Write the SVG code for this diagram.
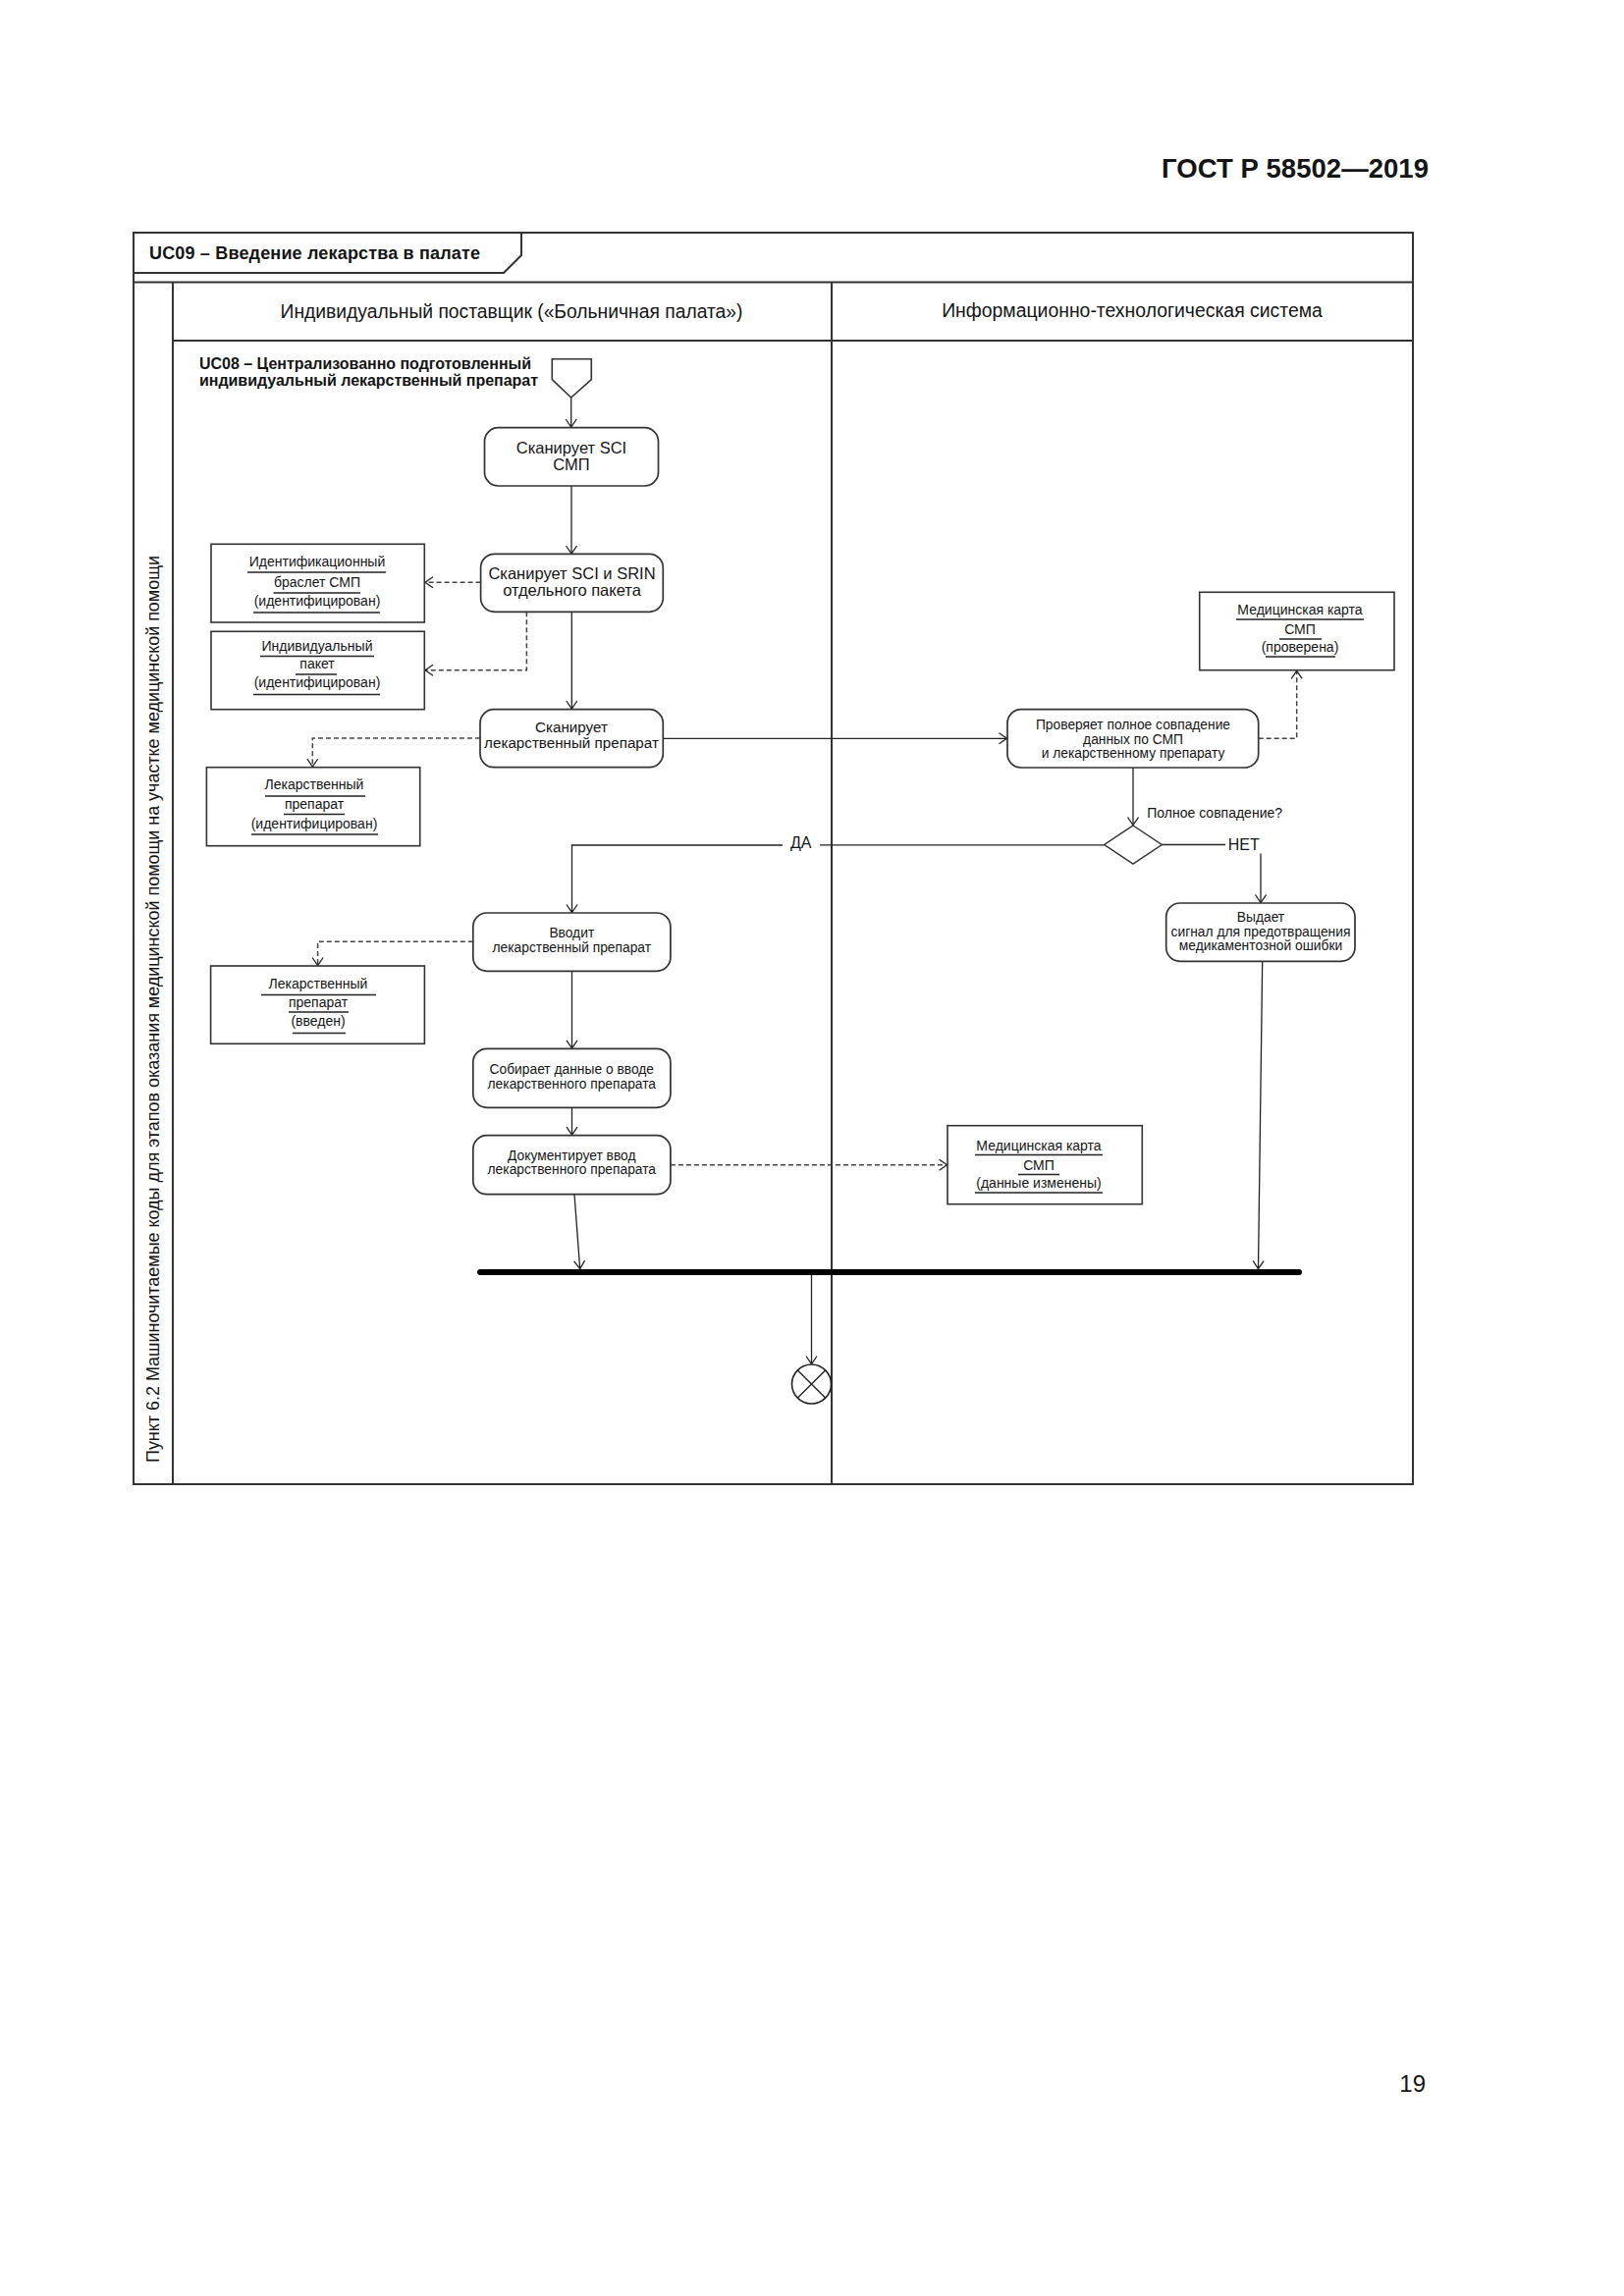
<svg xmlns="http://www.w3.org/2000/svg" width="1654" height="2339" viewBox="0 0 1654 2339">
<style>
text{font-family:"Liberation Sans",Arial,sans-serif;fill:#151515}
.frame{fill:none;stroke:#333;stroke-width:2}
.act{fill:#fff;stroke:#333;stroke-width:1.7}
.obj{fill:#fff;stroke:#333;stroke-width:1.6}
.ul{stroke:#222;stroke-width:1.5}
.c{fill:none;stroke:#222;stroke-width:1.3}
.d{fill:none;stroke:#444;stroke-width:1.5;stroke-dasharray:5 3}
.t16{font-size:16.5px}
.t15{font-size:15.2px}
.t14{font-size:13.8px}
.o{font-size:14px}
</style>
<defs>
<marker id="ah" markerUnits="userSpaceOnUse" markerWidth="12" markerHeight="14" refX="9" refY="6" orient="auto">
<path d="M1,0.5 L9,6 L1,11.5" fill="none" stroke="#222" stroke-width="1.3"/>
</marker>
</defs>
<rect width="1654" height="2339" fill="#fff"/>
<text x="1183" y="181" font-size="27.5" font-weight="bold" textLength="272">ГОСТ Р 58502—2019</text>
<text x="1452" y="2131" font-size="24" text-anchor="end">19</text>

<g id="frame">
<rect class="frame" x="136" y="237" width="1303" height="1275"/>
<path class="frame" d="M136,278 H513 L531,260 V237"/>
<line class="frame" x1="136" y1="287.5" x2="1439" y2="287.5"/>
<line class="frame" x1="176" y1="287.5" x2="176" y2="1512"/>
<line class="frame" x1="176" y1="347" x2="1439" y2="347"/>
<line class="frame" x1="847" y1="287.5" x2="847" y2="1512"/>
<text x="152" y="264" font-size="18" font-weight="bold" textLength="337">UC09 – Введение лекарства в палате</text>
<text x="521" y="324" font-size="19.3" text-anchor="middle">Индивидуальный поставщик («Больничная палата»)</text>
<text x="1153" y="323" font-size="19.4" text-anchor="middle">Информационно-технологическая система</text>
<text transform="translate(162,1490) rotate(-90)" font-size="18" textLength="924">Пункт 6.2 Машиночитаемые коды для этапов оказания медицинской помощи на участке медицинской помощи</text>
</g>

<g id="connectors">
<path class="c" d="M581.7,405 V435" marker-end="url(#ah)"/>
<path class="c" d="M582,495 V564" marker-end="url(#ah)"/>
<path class="d" d="M489.6,593.3 H433" marker-end="url(#ah)"/>
<path class="d" d="M536.4,623.3 V682.7 H433" marker-end="url(#ah)"/>
<path class="c" d="M582.3,623.3 V722" marker-end="url(#ah)"/>
<path class="d" d="M489,752 H318.3 V781" marker-end="url(#ah)"/>
<path class="c" d="M675.3,752.3 H1025.5" marker-end="url(#ah)"/>
<path class="d" d="M1281.7,752.3 H1320.7 V683.3" marker-end="url(#ah)"/>
<path class="c" d="M1154,782 V840.5" marker-end="url(#ah)"/>
<path class="c" d="M1183.3,860.5 H1248"/>
<path class="c" d="M1284,869.5 V919.5" marker-end="url(#ah)"/>
<path class="c" d="M1124.7,860.8 H835"/>
<path class="c" d="M797,861 H582.5 V929.5" marker-end="url(#ah)"/>
<path class="d" d="M481.8,959.3 H323.6 V983.5" marker-end="url(#ah)"/>
<path class="c" d="M582.5,989.3 V1067.8" marker-end="url(#ah)"/>
<path class="c" d="M582.5,1128.3 V1156.2" marker-end="url(#ah)"/>
<path class="d" d="M682.9,1186.7 H964.5" marker-end="url(#ah)"/>
<path class="c" d="M585,1216.7 L590.7,1292.5" marker-end="url(#ah)"/>
<path class="c" d="M1285.7,979.3 L1281.5,1292.5" marker-end="url(#ah)"/>
<path class="c" d="M826.5,1299 V1389.5" marker-end="url(#ah)"/>
<text x="805" y="863.5" font-size="16">ДА</text>
<text x="1250.7" y="865.5" font-size="16">НЕТ</text>
<text x="1168.3" y="832.5" font-size="14">Полное совпадение?</text>
</g>

<g id="start">
<path d="M562.3,365.7 H602.3 V386.7 L581.7,405 L562.3,386.7 Z" fill="#fff" stroke="#333" stroke-width="1.6"/>
<text x="203" y="376" font-size="16" font-weight="bold" textLength="338">UC08 – Централизованно подготовленный</text>
<text x="203" y="393" font-size="16" font-weight="bold" textLength="345">индивидуальный лекарственный препарат</text>
</g>

<g id="scan-sci">
<rect class="act" x="493.5" y="435.7" width="177" height="59.3" rx="14"/>
<text class="t16" x="582" y="462" text-anchor="middle">Сканирует SCI</text>
<text class="t16" x="582" y="479" text-anchor="middle">СМП</text>
</g>

<g id="scan-srin">
<rect class="act" x="489.6" y="564.3" width="185.7" height="59" rx="14"/>
<text class="t16" x="582.5" y="590" text-anchor="middle">Сканирует SCI и SRIN</text>
<text class="t16" x="582.5" y="607" text-anchor="middle">отдельного пакета</text>
</g>

<g id="obj-bracelet">
<rect class="obj" x="215" y="554.3" width="217.3" height="79.7"/>
<text class="o" x="323" y="577" text-anchor="middle">Идентификационный</text>
<line class="ul" x1="252" y1="583" x2="393" y2="583"/>
<text class="o" x="323" y="598" text-anchor="middle">браслет СМП</text>
<line class="ul" x1="278.5" y1="604" x2="367" y2="604"/>
<text class="o" x="323" y="617" text-anchor="middle">(идентифицирован)</text>
<line class="ul" x1="258" y1="624" x2="387" y2="624"/>
</g>

<g id="obj-packet">
<rect class="obj" x="215" y="643.3" width="217.3" height="79.4"/>
<text class="o" x="323" y="663" text-anchor="middle">Индивидуальный</text>
<line class="ul" x1="265" y1="668.5" x2="381" y2="668.5"/>
<text class="o" x="323" y="681" text-anchor="middle">пакет</text>
<line class="ul" x1="301" y1="687" x2="343" y2="687"/>
<text class="o" x="323" y="700" text-anchor="middle">(идентифицирован)</text>
<line class="ul" x1="258" y1="707.5" x2="387" y2="707.5"/>
</g>

<g id="scan-drug">
<rect class="act" x="489" y="722.7" width="186.3" height="59" rx="14"/>
<text class="t15" x="582" y="746" text-anchor="middle">Сканирует</text>
<text class="t15" x="582" y="762" text-anchor="middle">лекарственный препарат</text>
</g>

<g id="obj-drug-id">
<rect class="obj" x="210.4" y="781.7" width="217.3" height="80"/>
<text class="o" x="320" y="803.5" text-anchor="middle">Лекарственный</text>
<line class="ul" x1="270" y1="811" x2="372" y2="811"/>
<text class="o" x="320" y="823.5" text-anchor="middle">препарат</text>
<line class="ul" x1="289" y1="829.5" x2="351" y2="829.5"/>
<text class="o" x="320" y="843.5" text-anchor="middle">(идентифицирован)</text>
<line class="ul" x1="256" y1="850" x2="385" y2="850"/>
</g>

<g id="check">
<rect class="act" x="1026" y="722.7" width="255.7" height="59.3" rx="14"/>
<text class="t14" x="1154" y="742.5" text-anchor="middle">Проверяет полное совпадение</text>
<text class="t14" x="1154" y="757.5" text-anchor="middle">данных по СМП</text>
<text class="t14" x="1154" y="771.5" text-anchor="middle">и лекарственному препарату</text>
</g>

<g id="obj-card-checked">
<rect class="obj" x="1221.7" y="603.3" width="198.3" height="79.4"/>
<text class="o" x="1324" y="626" text-anchor="middle">Медицинская карта</text>
<line class="ul" x1="1259" y1="631" x2="1389" y2="631"/>
<text class="o" x="1324" y="646" text-anchor="middle">СМП</text>
<line class="ul" x1="1303" y1="651" x2="1346" y2="651"/>
<text class="o" x="1324" y="663.5" text-anchor="middle">(проверена)</text>
<line class="ul" x1="1289" y1="669" x2="1360" y2="669"/>
</g>

<g id="decision">
<polygon points="1154,841 1183.3,860.5 1154,880 1124.7,860.5" fill="#fff" stroke="#333" stroke-width="1.5"/>
</g>

<g id="alert">
<rect class="act" x="1187.7" y="920" width="192.3" height="59.3" rx="14"/>
<text class="t14" x="1284" y="939" text-anchor="middle">Выдает</text>
<text class="t14" x="1284" y="953.5" text-anchor="middle">сигнал для предотвращения</text>
<text class="t14" x="1284" y="967.5" text-anchor="middle">медикаментозной ошибки</text>
</g>

<g id="administer">
<rect class="act" x="481.8" y="930" width="201.1" height="59.3" rx="14"/>
<text class="t14" x="582.3" y="955" text-anchor="middle">Вводит</text>
<text class="t14" x="582.3" y="970" text-anchor="middle">лекарственный препарат</text>
</g>

<g id="obj-drug-admin">
<rect class="obj" x="214.6" y="984" width="217.8" height="79.3"/>
<text class="o" x="324" y="1007" text-anchor="middle">Лекарственный</text>
<line class="ul" x1="266" y1="1013.5" x2="383" y2="1013.5"/>
<text class="o" x="324" y="1026" text-anchor="middle">препарат</text>
<line class="ul" x1="294" y1="1031" x2="355" y2="1031"/>
<text class="o" x="324" y="1044.5" text-anchor="middle">(введен)</text>
<line class="ul" x1="298" y1="1052.5" x2="352" y2="1052.5"/>
</g>

<g id="collect">
<rect class="act" x="481.8" y="1068.3" width="201.1" height="60" rx="14"/>
<text class="t14" x="582.3" y="1094" text-anchor="middle">Собирает данные о вводе</text>
<text class="t14" x="582.3" y="1108.5" text-anchor="middle">лекарственного препарата</text>
</g>

<g id="document">
<rect class="act" x="481.8" y="1156.7" width="201.1" height="60" rx="14"/>
<text class="t14" x="582.3" y="1181.5" text-anchor="middle">Документирует ввод</text>
<text class="t14" x="582.3" y="1196" text-anchor="middle">лекарственного препарата</text>
</g>

<g id="obj-card-changed">
<rect class="obj" x="965" y="1146.7" width="198.3" height="80"/>
<text class="o" x="1058" y="1172" text-anchor="middle">Медицинская карта</text>
<line class="ul" x1="993" y1="1176.5" x2="1123" y2="1176.5"/>
<text class="o" x="1058" y="1192" text-anchor="middle">СМП</text>
<line class="ul" x1="1037" y1="1196.5" x2="1079" y2="1196.5"/>
<text class="o" x="1058" y="1210" text-anchor="middle">(данные изменены)</text>
<line class="ul" x1="993" y1="1215" x2="1123" y2="1215"/>
</g>

<g id="join">
<line x1="489" y1="1296" x2="1323" y2="1296" stroke="#000" stroke-width="6" stroke-linecap="round"/>
</g>

<g id="final">
<circle cx="826.5" cy="1410" r="20" fill="#fff" stroke="#222" stroke-width="1.6"/>
<path d="M812.4,1395.9 L840.6,1424.1 M840.6,1395.9 L812.4,1424.1" stroke="#222" stroke-width="1.4"/>
</g>
</svg>
